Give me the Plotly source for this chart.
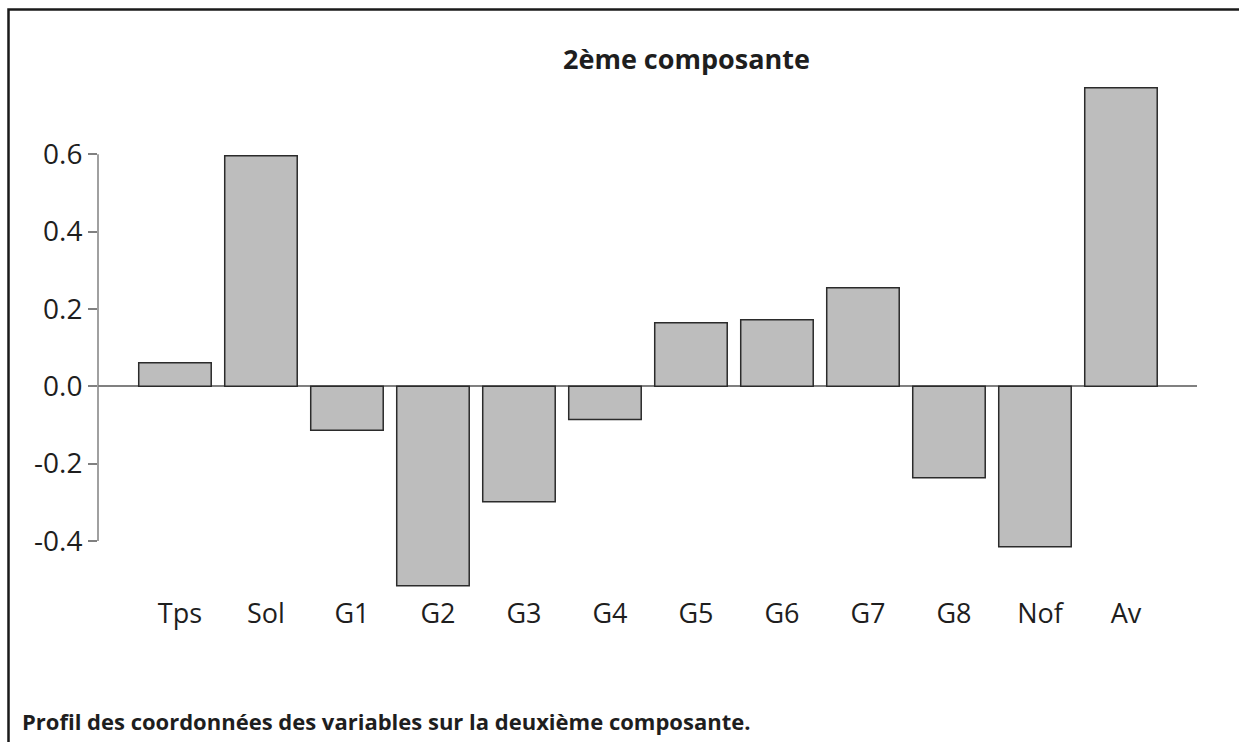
import plotly.graph_objects as go

# Loadings of each variable on the second principal component
variables = ["Tps", "Sol", "G1", "G2", "G3", "G4", "G5", "G6", "G7", "G8", "Nof", "Av"]
loadings = [0.061, 0.596, -0.114, -0.516, -0.299, -0.086, 0.164, 0.172, 0.255, -0.237, -0.415, 0.772]
y_ticks = [-0.4, -0.2, 0.0, 0.2, 0.4, 0.6]
y_tick_text = ["-0.4", "-0.2", "0.0", "0.2", "0.4", "0.6"]

W, H = 1239, 742
L, R, T, B = 98, 42, 77, 147.4
PW, PH = W - L - R, H - T - B


def px(x):
    return (x - L) / PW


def py(y):
    return (H - B - y) / PH


fig = go.Figure(
    go.Bar(
        x=list(range(len(variables))),
        y=loadings,
        marker=dict(color="#bdbdbd", line=dict(color="#2b2b2b", width=1.5)),
        hoverinfo="skip",
    )
)

fig.update_layout(
    width=W,
    height=H,
    margin=dict(l=L, r=R, t=T, b=B, pad=0),
    paper_bgcolor="white",
    plot_bgcolor="white",
    showlegend=False,
    bargap=0.157,
    font=dict(family="Open Sans", color="#1e1e1e", size=26),
    xaxis=dict(
        range=[-0.895, 11.884],
        tickmode="array",
        tickvals=list(range(len(variables))),
        ticktext=variables,
        showgrid=False,
        zeroline=False,
        showline=False,
        ticks="",
        ticklabelshift=5,
        tickfont=dict(family="Open Sans", size=27, color="#1e1e1e"),
        fixedrange=True,
    ),
    yaxis=dict(
        range=[-0.54, 0.8],
        tickmode="array",
        tickvals=y_ticks,
        ticktext=y_tick_text,
        showgrid=False,
        zeroline=True,
        zerolinecolor="#808080",
        zerolinewidth=1.5,
        showline=False,
        ticks="outside",
        ticklen=9,
        tickwidth=1.5,
        tickcolor="#808080",
        ticklabelstandoff=0,
        tickfont=dict(family="Open Sans", size=28, color="#1e1e1e"),
        fixedrange=True,
    ),
    shapes=[
        # value axis drawn only over the labelled tick span
        dict(type="line", xref="paper", yref="y", x0=0, x1=0, y0=y_ticks[0], y1=y_ticks[-1],
             line=dict(color="#808080", width=1.5), layer="above"),
        # outer frame
        dict(type="rect", xref="paper", yref="paper",
             x0=px(8.5), x1=px(W + 20), y0=py(9.5), y1=py(H + 20),
             line=dict(color="#1a1a1a", width=2.5), fillcolor="rgba(0,0,0,0)"),
    ],
    annotations=[
        dict(text="<b>2ème composante</b>", xref="paper", yref="paper",
             x=px(686), y=py(59), xanchor="center", yanchor="middle", showarrow=False,
             font=dict(family="Open Sans", size=27, color="#1e1e1e")),
        dict(text="<b>Profil des coordonnées des variables sur la deuxième composante.</b>",
             xref="paper", yref="paper", x=px(20), y=py(721), xanchor="left", yanchor="middle",
             showarrow=False, font=dict(family="Open Sans", size=22, color="#1e1e1e")),
    ],
)

fig.write_html("out.html")
